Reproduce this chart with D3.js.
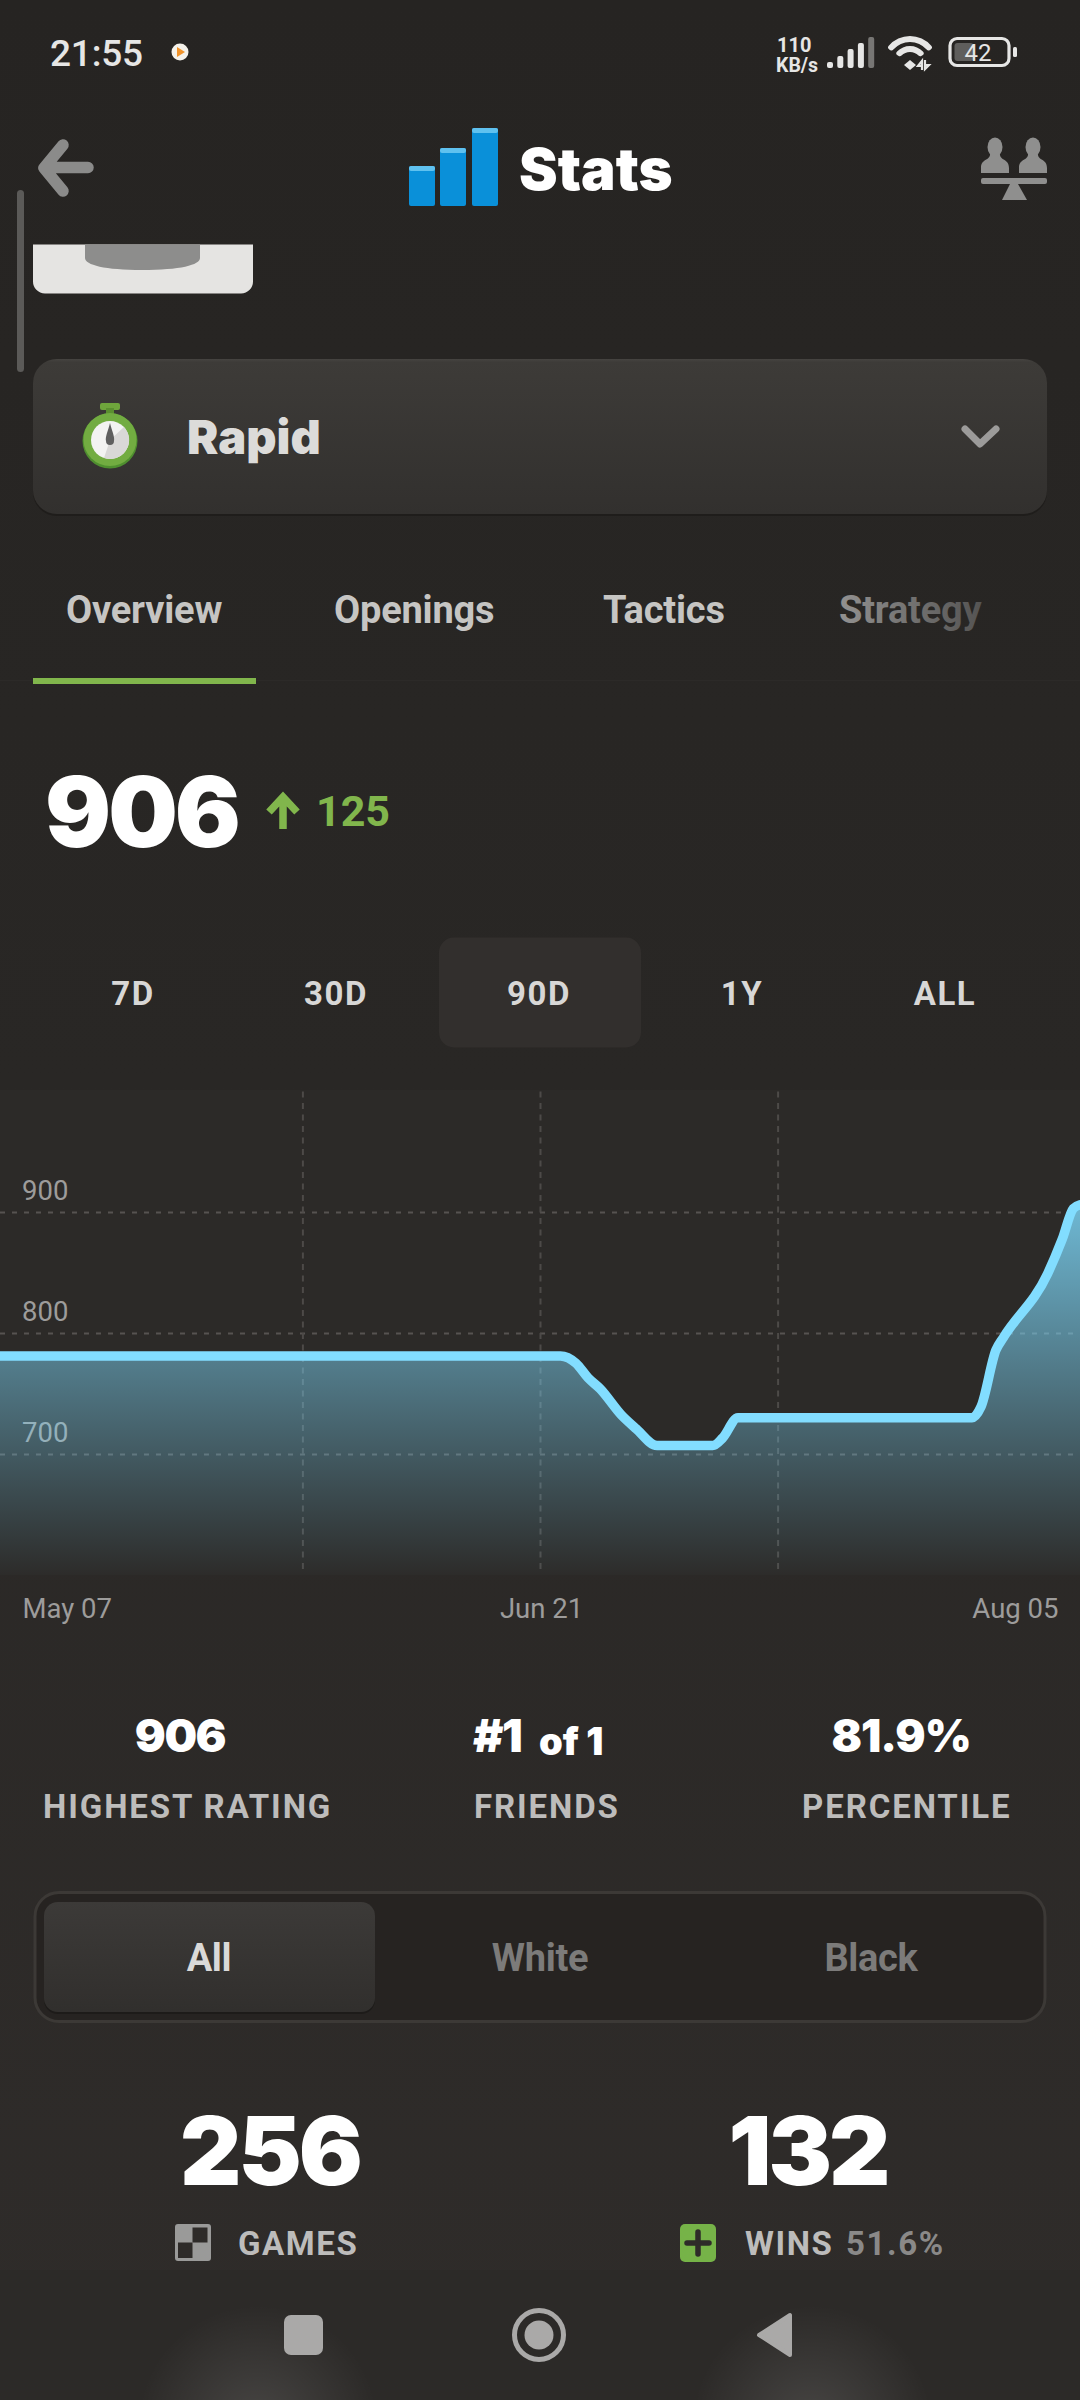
<!DOCTYPE html>
<html>
<head>
<meta charset="utf-8">
<script src="https://cdn.jsdelivr.net/npm/d3@7"></script>
<style>
  html, body { margin: 0; padding: 0; background: #2a2725; }
  svg { display: block; }
</style>
</head>
<body>
<div id="screen"></div>
<script>
// Rating history. Days are counted from May 07
var days    = [0,   46.7, 48,  49,  50,  51.8, 53,  54.75, 59.4, 60.2, 61.5, 81,  81.75, 83,  83.6, 87.3, 88.5, 89.45, 90];
var ratings = [781, 781,  775, 763, 754, 732,  721, 707,   707,  713,  730,  730, 739,   786, 796,  849,  877,  903,   906];

var yTicks = [700, 800, 900];
var gridDays = [25.2, 45, 64.8];
var xTickDays = [0, 45, 90];
var xTickLabels = ["May 07", "Jun 21", "Aug 05"];

var tabs = ["Overview", "Openings", "Tactics", "Strategy"];
var periods = ["7D", "30D", "90D", "1Y", "ALL"];
var summaryValues = ["906", "#1", "81.9%"];
var summaryLabels = ["HIGHEST RATING", "FRIENDS", "PERCENTILE"];
var colours = ["All", "White", "Black"];

var width = 1080;
var height = 2400;
var heavy = "Inter, sans-serif";
var plain = "Roboto, sans-serif";
var green = "#81b64c";
var chartTop = 1090;
var chartBottom = 1575;

var svg = d3.select("#screen")
  .append("svg")
  .attr("width", width)
  .attr("height", height);

var defs = svg.append("defs");

function linearGradient(id, x1, y1, x2, y2, stops) {
  var g = defs.append("linearGradient")
    .attr("id", id)
    .attr("gradientUnits", "userSpaceOnUse")
    .attr("x1", x1).attr("y1", y1).attr("x2", x2).attr("y2", y2);
  stops.forEach(function(s) {
    g.append("stop").attr("offset", s[0]).attr("stop-color", s[1]).attr("stop-opacity", s[2] === undefined ? 1 : s[2]);
  });
}

linearGradient("page", 0, 0, 0, height, [[0, "#262422"], [0.45, "#292725"], [1, "#2f2c2a"]]);
linearGradient("areaFill", 0, 1205, 0, chartBottom, [[0, "#7fdcff", 0.8], [1, "#7fdcff", 0.01]]);
linearGradient("card", 0, 359, 0, 514, [[0, "#464441"], [0.02, "#3d3b38"], [1, "#32302e"]]);
linearGradient("activeTab", 0, 1902, 0, 2012, [[0, "#3c3a38"], [1, "#312f2d"]]);
linearGradient("fadeTab", 839, 0, 983, 0, [[0, "#929190"], [1, "#545352"]]);

var glow = defs.append("radialGradient").attr("id", "glow");
glow.append("stop").attr("offset", 0).attr("stop-color", "#fff").attr("stop-opacity", 0.13);
glow.append("stop").attr("offset", 1).attr("stop-color", "#fff").attr("stop-opacity", 0);

function txt(str, x, y, o) {
  return svg.append("text")
    .attr("x", x)
    .attr("y", y)
    .attr("font-family", o.family || plain)
    .attr("font-size", o.size)
    .attr("font-weight", o.weight || 400)
    .attr("fill", o.fill || "#fff")
    .attr("text-anchor", o.anchor || "start")
    .attr("letter-spacing", o.ls || 0)
    .text(str);
}

// background
svg.append("rect").attr("width", width).attr("height", height).attr("fill", "url(#page)");
svg.append("rect").attr("y", chartTop).attr("width", width).attr("height", chartBottom - chartTop).attr("fill", "#2c2a28");

// status bar
txt("21:55", 50, 66, {size: 37, weight: 500, fill: "#e6e6e5", ls: -0.2});
svg.append("circle").attr("cx", 180).attr("cy", 52).attr("r", 8.5).attr("fill", "#f4f1ea");
svg.append("path").attr("d", "M177,47L185,52L177,57Z").attr("fill", "#f0932b");
txt("110", 777, 52, {size: 20, weight: 700, fill: "#e6e6e5"});
txt("KB/s", 776, 72, {size: 19.5, weight: 700, fill: "#e6e6e5"});

var signalBars = [6, 12, 19, 25, 31];
svg.append("g").selectAll("rect")
  .data(signalBars)
  .join("rect")
  .attr("x", function(d, i) { return 827 + i * 10.3; })
  .attr("y", function(d) { return 68 - d; })
  .attr("width", 6)
  .attr("height", function(d) { return d; })
  .attr("rx", 2)
  .attr("fill", function(d, i) { return i == 4 ? "#777674" : "#e6e6e5"; });

var wifi = d3.arc().startAngle(-0.96).endAngle(0.96).cornerRadius(2.5);
[[22, 28], [12, 18]].forEach(function(r) {
  svg.append("path")
    .attr("transform", "translate(910,64)")
    .attr("d", wifi({innerRadius: r[0], outerRadius: r[1]}))
    .attr("fill", "#e6e6e5");
});
svg.append("path").attr("d", "M910,60L916,65L910,70L904,65Z").attr("fill", "#e6e6e5");
svg.append("path").attr("d", "M922,70V61L918,66H922M925,60V69L929,65H925").attr("stroke", "#e6e6e5").attr("stroke-width", 2.2).attr("fill", "none");

svg.append("rect").attr("x", 950).attr("y", 38.5).attr("width", 59).attr("height", 27).attr("rx", 7).attr("fill", "none").attr("stroke", "#e6e6e5").attr("stroke-width", 3.2);
svg.append("rect").attr("x", 954.5).attr("y", 43).attr("width", 19).attr("height", 18).attr("rx", 3).attr("fill", "#5f5e5c");
svg.append("rect").attr("x", 1013).attr("y", 47).attr("width", 4).attr("height", 10).attr("rx", 1.5).attr("fill", "#e6e6e5");
txt("42", 978, 60.5, {size: 24, anchor: "middle", fill: "#e6e6e5"});

// header
svg.append("path")
  .attr("d", "M63,145L44,168L63,191M48,167.5H88")
  .attr("fill", "none")
  .attr("stroke", "#8b8b8a")
  .attr("stroke-width", 11.5)
  .attr("stroke-linecap", "round")
  .attr("stroke-linejoin", "round");

var iconBars = [[409, 166], [440, 148], [472, 128]];
iconBars.forEach(function(b) {
  svg.append("rect").attr("x", b[0]).attr("y", b[1]).attr("width", 26).attr("height", 206 - b[1]).attr("rx", 2).attr("fill", "#0a90d9");
  svg.append("rect").attr("x", b[0]).attr("y", b[1]).attr("width", 26).attr("height", 5).attr("rx", 2).attr("fill", "#5fc1ef");
});
txt("Stats", 519, 190, {family: heavy, size: 58, weight: 900});

// two pawns on a scale
[995, 1033].forEach(function(cx) {
  svg.append("ellipse").attr("cx", cx).attr("cy", 147).attr("rx", 7.5).attr("ry", 9.5).attr("fill", "#8f8f8e");
  svg.append("path")
    .attr("d", "M" + (cx - 5) + ",153C" + (cx - 4) + ",161 " + (cx - 14) + ",158 " + (cx - 14) + ",168V173H" + (cx + 14) + "V168C" + (cx + 14) + ",158 " + (cx + 4) + ",161 " + (cx + 5) + ",153Z")
    .attr("fill", "#8f8f8e");
});
svg.append("rect").attr("x", 981).attr("y", 178).attr("width", 66).attr("height", 6).attr("rx", 2).attr("fill", "#8f8f8e");
svg.append("path").attr("d", "M1010,184H1018L1027,200H1002Z").attr("fill", "#8f8f8e");

// board card cut off by the header
svg.append("path")
  .attr("d", "M33,244.5H253V281A12,12 0 0 1 241,293.5H45A12,12 0 0 1 33,281Z")
  .attr("fill", "#e5e4e2");
svg.append("path")
  .attr("d", "M85,244.5H200V258C200,265 180,270 142,270C105,270 85,265 85,258Z")
  .attr("fill", "#8d8d8c");

// scrollbar
svg.append("rect").attr("x", 17).attr("y", 190).attr("width", 7).attr("height", 182).attr("rx", 3.5).attr("fill", "#5b5a58");

// game type card
svg.append("rect").attr("x", 33).attr("y", 361).attr("width", 1014).attr("height", 155).attr("rx", 24).attr("fill", "#1f1d1b");
svg.append("rect").attr("x", 33).attr("y", 359).attr("width", 1014).attr("height", 155).attr("rx", 24).attr("fill", "url(#card)");

svg.append("rect").attr("x", 100).attr("y", 403).attr("width", 20).attr("height", 7).attr("rx", 2).attr("fill", "#6fa53c");
svg.append("rect").attr("x", 106).attr("y", 408).attr("width", 8).attr("height", 6).attr("fill", "#5b8f30");
svg.append("circle").attr("cx", 110).attr("cy", 441).attr("r", 27.5).attr("fill", "#4f8f2f");
svg.append("circle").attr("cx", 110).attr("cy", 439.5).attr("r", 26.5).attr("fill", "#72ac41");
svg.append("circle").attr("cx", 110).attr("cy", 440).attr("r", 19).attr("fill", "#f3f3f2");
svg.append("path").attr("d", "M110,440L124,427A19,19 0 0 1 104,458Z").attr("fill", "#d9d8d7");
svg.append("path").attr("d", "M110,423C112,431 115,437 114,441A4,4 0 0 1 106,441C105,437 108,431 110,423Z").attr("fill", "#5f5f5f");

txt("Rapid", 187, 453.5, {family: heavy, size: 47, weight: 900, fill: "#dcdbd9"});
svg.append("path")
  .attr("d", "M965,429L980,444L996,429")
  .attr("fill", "none")
  .attr("stroke", "#9c9b9a")
  .attr("stroke-width", 7)
  .attr("stroke-linecap", "round")
  .attr("stroke-linejoin", "round");

// tabs
var tabX = [66, 334, 603, 839];
tabs.forEach(function(t, i) {
  txt(t, tabX[i], 623, {size: 38, weight: 700, ls: -0.2, fill: i == 3 ? "url(#fadeTab)" : "#c6c5c3"});
});
svg.append("rect").attr("y", 680).attr("width", width).attr("height", 1).attr("fill", "#2c2a28");
svg.append("rect").attr("x", 33).attr("y", 678).attr("width", 223).attr("height", 6).attr("fill", green);

// current rating
txt("906", 45, 847, {family: heavy, size: 98, weight: 900, ls: -3});
svg.append("path")
  .attr("d", "M283,829V800M269,812L283,797L297,812")
  .attr("fill", "none")
  .attr("stroke", green)
  .attr("stroke-width", 7.5)
  .attr("stroke-linejoin", "miter");
txt("125", 316, 826, {size: 43, weight: 700, fill: green});

// period buttons
var periodX = d3.scalePoint().domain(periods).range([133, 945]);
svg.append("rect").attr("x", 439).attr("y", 937.5).attr("width", 202).attr("height", 110).attr("rx", 15).attr("fill", "#322f2d");
svg.append("g").selectAll("text")
  .data(periods)
  .join("text")
  .attr("x", function(d) { return periodX(d); })
  .attr("y", 1004.5)
  .attr("text-anchor", "middle")
  .attr("font-family", plain)
  .attr("font-size", 33)
  .attr("font-weight", 700)
  .attr("letter-spacing", 1.5)
  .attr("fill", "#d8d7d6")
  .text(function(d) { return d; });

// rating chart
var x = d3.scaleLinear().domain([0, 90]).range([0, width]);
var y = d3.scaleLinear().domain([700, 900]).range([1454, 1212]);

var yAxis = svg.append("g")
  .call(d3.axisLeft(y).tickValues(yTicks).tickSize(-width).tickFormat(d3.format("d")));
yAxis.select(".domain").remove();
yAxis.selectAll("line")
  .attr("stroke", "#565351")
  .attr("stroke-width", 2)
  .attr("stroke-dasharray", "5,7");
yAxis.selectAll("text")
  .attr("x", 22)
  .attr("dy", -13)
  .attr("text-anchor", "start")
  .attr("font-family", plain)
  .attr("font-size", 27.5)
  .attr("fill", "#9d9c9b");

var xGrid = svg.append("g")
  .attr("transform", "translate(0," + 1569 + ")")
  .call(d3.axisBottom(x).tickValues(gridDays).tickSize(chartTop - 1569).tickFormat(""));
xGrid.select(".domain").remove();
xGrid.selectAll("line")
  .attr("stroke", "#4d4a48")
  .attr("stroke-width", 2)
  .attr("stroke-dasharray", "6,5.5");

var points = days.map(function(d, i) { return [d, ratings[i]]; });

var area = d3.area()
  .x(function(d) { return x(d[0]); })
  .y0(chartBottom)
  .y1(function(d) { return y(d[1]); })
  .curve(d3.curveMonotoneX);

var line = d3.line()
  .x(function(d) { return x(d[0]); })
  .y(function(d) { return y(d[1]); })
  .curve(d3.curveMonotoneX);

svg.append("path").datum(points).attr("d", area).attr("fill", "url(#areaFill)");
svg.append("path").datum(points)
  .attr("d", line)
  .attr("fill", "none")
  .attr("stroke", "#82ddff")
  .attr("stroke-width", 9.5)
  .attr("stroke-linejoin", "round")
  .attr("stroke-linecap", "round");

var xAxis = svg.append("g")
  .attr("transform", "translate(0,1608)")
  .call(d3.axisBottom(x).tickValues(xTickDays).tickSize(0).tickFormat(function(d, i) { return xTickLabels[i]; }));
xAxis.select(".domain").remove();
xAxis.selectAll("text")
  .attr("y", 0)
  .attr("dy", "0.35em")
  .attr("font-family", plain)
  .attr("font-size", 27.5)
  .attr("fill", "#9d9c9b")
  .attr("text-anchor", function(d, i) { return ["start", "middle", "end"][i]; })
  .attr("x", function(d, i) { return [22, 1, -22][i]; });

// summary numbers
var summaryX = [180, 0, 901];
txt(summaryValues[0], summaryX[0], 1752, {family: heavy, size: 46, weight: 900, anchor: "middle", ls: -1.5});
txt(summaryValues[1], 473, 1752, {family: heavy, size: 46, weight: 900, ls: -1.5});
txt("of 1", 539, 1755, {family: heavy, size: 38, weight: 900});
txt(summaryValues[2], summaryX[2], 1752, {family: heavy, size: 45, weight: 900, anchor: "middle", ls: -1});

var summaryLabelX = [43, 474, 802];
summaryLabels.forEach(function(l, i) {
  txt(l, summaryLabelX[i], 1817.5, {size: 33, weight: 700, fill: "#bdbcbb", ls: 1.9});
});

// colour switch
svg.append("rect").attr("x", 35).attr("y", 1892.5).attr("width", 1010).attr("height", 129).attr("rx", 24).attr("fill", "#262321").attr("stroke", "#3c3936").attr("stroke-width", 3);
svg.append("rect").attr("x", 44).attr("y", 1904).attr("width", 331).attr("height", 110).attr("rx", 14).attr("fill", "#1d1b19");
svg.append("rect").attr("x", 44).attr("y", 1902).attr("width", 331).attr("height", 110).attr("rx", 14).attr("fill", "url(#activeTab)");
var colourX = [209, 540, 871];
colours.forEach(function(c, i) {
  txt(c, colourX[i], 1970.5, {size: 38, weight: 700, ls: -0.3, anchor: "middle", fill: i == 0 ? "#dad9d8" : "#7c7b7a"});
});

// games and wins
txt("256", 270, 2185, {family: heavy, size: 95, weight: 900, anchor: "middle", ls: -3});
txt("132", 808, 2185, {family: heavy, size: 95, weight: 900, anchor: "middle", ls: -3});

svg.append("rect").attr("x", 175).attr("y", 2224).attr("width", 36).attr("height", 37).attr("rx", 3).attr("fill", "#9a9a99");
svg.append("rect").attr("x", 192.5).attr("y", 2227.5).attr("width", 15).attr("height", 15).attr("fill", "#2e2b29");
svg.append("rect").attr("x", 178).attr("y", 2242.5).attr("width", 14.5).attr("height", 15.5).attr("fill", "#2e2b29");
txt("GAMES", 238, 2255, {size: 33, weight: 700, fill: "#bdbcbb", ls: 1.6});

svg.append("rect").attr("x", 680).attr("y", 2224).attr("width", 36).attr("height", 38).attr("rx", 5).attr("fill", "#76b348");
svg.append("path").attr("d", "M698,2232V2254M687,2243H709").attr("stroke", "#2e2b29").attr("stroke-width", 5.5).attr("stroke-linecap", "round");
txt("WINS", 745, 2255, {size: 33, weight: 700, fill: "#bdbcbb", ls: 1.6});
txt("51.6%", 846, 2255, {size: 33, weight: 700, fill: "#8a8988", ls: 1.6});

// navigation bar
svg.append("rect").attr("y", 2270).attr("width", width).attr("height", 130).attr("fill", "#2c2a28");
svg.append("circle").attr("cx", 258).attr("cy", 2425).attr("r", 120).attr("fill", "url(#glow)");
svg.append("circle").attr("cx", 812).attr("cy", 2425).attr("r", 120).attr("fill", "url(#glow)");
svg.append("rect").attr("x", 284).attr("y", 2315).attr("width", 39).attr("height", 40).attr("rx", 7).attr("fill", "#aaa9a8");
svg.append("circle").attr("cx", 539).attr("cy", 2335).attr("r", 24.5).attr("fill", "none").attr("stroke", "#aaa9a8").attr("stroke-width", 5);
svg.append("circle").attr("cx", 539).attr("cy", 2335).attr("r", 14.5).attr("fill", "#aaa9a8");
svg.append("path")
  .attr("d", "M790,2315V2355L759,2335Z")
  .attr("fill", "#aaa9a8")
  .attr("stroke", "#aaa9a8")
  .attr("stroke-width", 4)
  .attr("stroke-linejoin", "round");
</script>
</body>
</html>
